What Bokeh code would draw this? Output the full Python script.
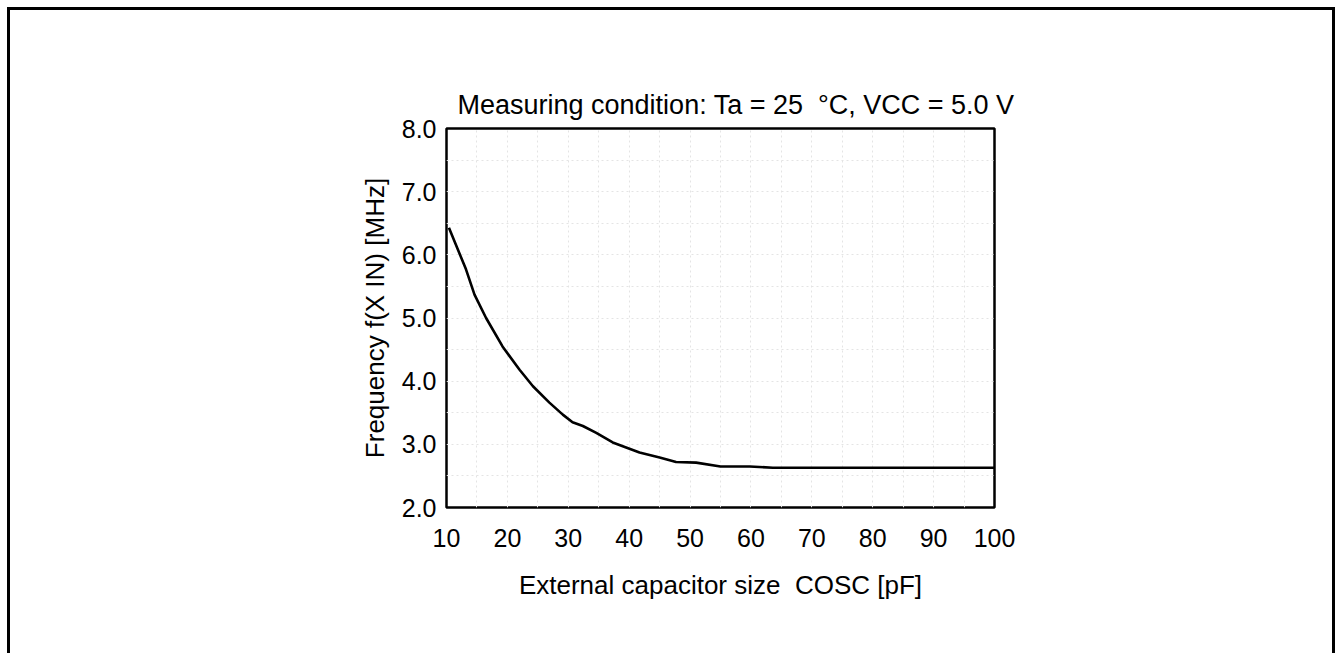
from bokeh.plotting import figure
from bokeh.models import Range1d, FixedTicker, NumeralTickFormatter, Title
from bokeh.embed import file_html
from bokeh.resources import INLINE

# Data
cap_pf = [10.4, 13.2, 14.6, 16.5, 19.2, 22.0, 24.2, 26.9, 29.1, 30.7, 32.4, 34.6,
          37.3, 41.7, 45.0, 47.7, 51.0, 55.0, 59.8, 63.6, 70, 80, 90, 100]
freq_mhz = [6.43, 5.77, 5.37, 5.00, 4.55, 4.18, 3.92, 3.66, 3.47, 3.35, 3.29, 3.18,
            3.03, 2.87, 2.79, 2.72, 2.71, 2.65, 2.65, 2.63, 2.63, 2.63, 2.63, 2.63]
x_ticks = [10, 20, 30, 40, 50, 60, 70, 80, 90, 100]
y_ticks = [2, 3, 4, 5, 6, 7, 8]
x_grid = [15, 20, 25, 30, 35, 40, 45, 50, 55, 60, 65, 70, 75, 80, 85, 90, 95]
y_grid = [2.5, 3, 3.5, 4, 4.5, 5, 5.5, 6, 6.5, 7, 7.5]

title_text = "Measuring condition: Ta = 25 \u00a0\u00b0C, VCC = 5.0 V"
x_label = "External capacitor size \u00a0COSC [pF]"
y_label = "Frequency f(X IN) [MHz]"

FONT = "Liberation Sans"

p = figure(width=1328, height=646, output_backend="svg", toolbar_location=None,
           x_range=Range1d(10, 100), y_range=Range1d(2, 8),
           min_border_left=436, min_border_right=344,
           min_border_top=118, min_border_bottom=149,
           background_fill_color="white", border_fill_color="white")

p.title = Title(text=title_text, align="left", offset=11,
                text_font=FONT, text_font_size="27px", text_font_style="normal",
                text_color="black", standoff=17)

p.outline_line_color = "black"
p.outline_line_width = 2.5

p.line(cap_pf, freq_mhz, line_color="black", line_width=2.6)

for ax in (p.xaxis[0], p.yaxis[0]):
    ax.axis_line_color = None
    ax.major_tick_line_color = None
    ax.minor_tick_line_color = None
    ax.major_tick_in = 0
    ax.major_tick_out = 0
    ax.major_label_text_font = FONT
    ax.major_label_text_font_size = "25px"
    ax.major_label_text_color = "black"
    ax.axis_label_text_font = FONT
    ax.axis_label_text_font_size = "26px"
    ax.axis_label_text_font_style = "normal"
    ax.axis_label_text_color = "black"

p.xaxis.ticker = FixedTicker(ticks=x_ticks)
p.yaxis.ticker = FixedTicker(ticks=y_ticks)
p.yaxis.formatter = NumeralTickFormatter(format="0.0")
p.xaxis.major_label_standoff = 21
p.yaxis.major_label_standoff = 10
p.xaxis.axis_label = x_label
p.yaxis.axis_label = y_label
p.xaxis.axis_label_standoff = 20
p.yaxis.axis_label_standoff = 9

p.xgrid.ticker = FixedTicker(ticks=x_grid)
p.ygrid.ticker = FixedTicker(ticks=y_grid)
for g in (p.xgrid[0], p.ygrid[0]):
    g.grid_line_color = "#e4e4e4"
    g.grid_line_width = 1
    g.grid_line_dash = "2 3"

p.styles = {"margin-left": "7px", "margin-top": "7px",
            "border-top": "3px solid black", "border-left": "3px solid black",
            "border-right": "3px solid black"}

open("out.html", "w").write(file_html(p, INLINE))
